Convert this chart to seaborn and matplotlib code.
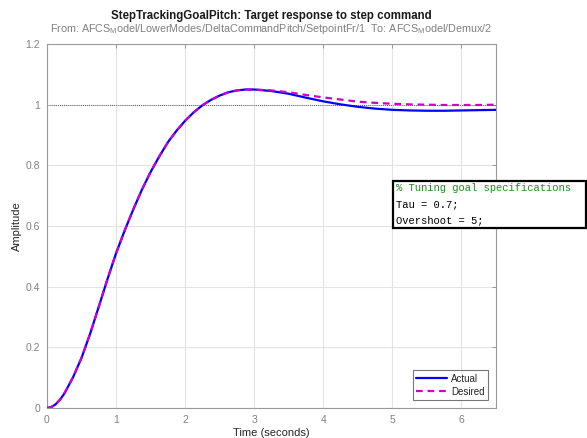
import matplotlib
matplotlib.use("Agg")
import matplotlib.pyplot as plt
import seaborn as sns
import pandas as pd
from matplotlib.patches import Rectangle

# ---- data ----
time_rise = [0, 0.0625, 0.125, 0.1875, 0.25, 0.375, 0.5, 0.625, 0.75, 0.875, 1.0, 1.125, 1.25,
             1.375, 1.5, 1.625, 1.75, 1.875, 2.0, 2.125, 2.25, 2.375, 2.5,
             2.625, 2.75, 2.875, 3.0]
amp_rise = [0, 0.003, 0.012, 0.027, 0.047, 0.10, 0.165, 0.245, 0.334, 0.424, 0.51, 0.585, 0.655,
            0.72, 0.778, 0.829, 0.876, 0.914, 0.947, 0.975, 0.998, 1.016, 1.030,
            1.041, 1.047, 1.050, 1.050]
time_tail = [3.25, 3.5, 3.75, 4.0, 4.25, 4.5, 4.75, 5.0, 5.25, 5.5, 5.75, 6.0, 6.25, 6.5]
actual_tail = [1.045, 1.036, 1.023, 1.011, 1.001, 0.993, 0.987, 0.983, 0.981, 0.980,
               0.980, 0.981, 0.982, 0.983]
desired_tail = [1.047, 1.041, 1.032, 1.024, 1.017, 1.010, 1.006, 1.003, 1.001, 1.000,
                0.999, 0.999, 0.999, 1.000]
x_ticks = [0, 1, 2, 3, 4, 5, 6]
y_ticks = [0, 0.2, 0.4, 0.6, 0.8, 1.0, 1.2]
y_tick_labels = ["0", "0.2", "0.4", "0.6", "0.8", "1", "1.2"]
spec_lines = ["% Tuning goal specifications", "Tau = 0.7;", "Overshoot = 5;"]
reference_level = 1.0

time = time_rise + time_tail
actual = amp_rise + actual_tail
desired = amp_rise + desired_tail

df = pd.DataFrame({"Time": time, "Actual": actual, "Desired": desired})

sns.set_theme(style="white")
plt.rcParams["font.family"] = ["Liberation Sans", "DejaVu Sans"]

fig = plt.figure(figsize=(5.87, 4.38), dpi=100)
ax = fig.add_axes([0.080, 0.0685, 0.765, 0.831])

gray = "#8a8a8a"
ax.grid(True, color="#e3e3e3", linewidth=0.8)
ax.set_axisbelow(True)

ax.plot([0, 6.5], [reference_level, reference_level], color="#333333",
        linestyle=(0, (1, 1.5)), linewidth=0.6, zorder=2)

sns.lineplot(data=df, x="Time", y="Actual", ax=ax, color="#0000FF",
             linewidth=1.6, label="Actual", zorder=3)
sns.lineplot(data=df, x="Time", y="Desired", ax=ax, color="#CC00CC",
             linewidth=1.6, linestyle=(0, (3, 2.2)), label="Desired", zorder=4)

ax.set_xlim(0, 6.5)
ax.set_ylim(0, 1.2)
ax.set_xticks(x_ticks)
ax.set_yticks(y_ticks)
ax.set_yticklabels(y_tick_labels)
ax.tick_params(axis="both", colors=gray, labelsize=7.5, direction="in",
               length=3, width=0.6, labelcolor="#808080", top=True, right=True,
               pad=5)
for s in ax.spines.values():
    s.set_color("#9a9a9a")
    s.set_linewidth(0.8)

ax.set_xlabel("Time (seconds)", fontsize=8, color="#262626", labelpad=2)
ax.set_ylabel("Amplitude", fontsize=8, color="#262626")
ax.yaxis.set_label_coords(-0.056, 0.5)

fig.text(0.4625, 0.963, "StepTrackingGoalPitch: Target response to step command",
         ha="center", va="center", fontsize=8.3, fontweight="bold", color="#1a1a1a")
fig.text(0.4625, 0.933,
         r"From: AFCS$_{\mathregular{M}}$odel/LowerModes/DeltaCommandPitch/SetpointFr/1  To: AFCS$_{\mathregular{M}}$odel/Demux/2",
         ha="center", va="center", fontsize=7.75, color="#808080")

leg = ax.legend(loc="lower right", fontsize=7, frameon=True, fancybox=False,
                handlelength=3.2, borderpad=0.35, labelspacing=0.3,
                handletextpad=0.4, borderaxespad=0.8)
leg.get_frame().set_edgecolor("#555555")
leg.get_frame().set_linewidth(0.8)
for t in leg.get_texts():
    t.set_color("#262626")

# specification text box
x0, x1 = 393 / 587, 586 / 587
ytop, ybot = 1 - 181 / 438, 1 - 228 / 438
fig.patches.append(Rectangle((x0, ybot), x1 - x0, ytop - ybot, transform=fig.transFigure,
                             facecolor="white", edgecolor="black", linewidth=1.6,
                             zorder=10))
line_colors = ["#228B22", "#000000", "#000000"]
line_y = [1 - 188 / 438, 1 - 204 / 438, 1 - 220 / 438]
for txt, c, yy in zip(spec_lines, line_colors, line_y):
    fig.text(x0 + 3 / 587, yy, txt, ha="left", va="center", fontsize=7.6,
             family="Liberation Mono", color=c, zorder=11)

fig.savefig("out.png", dpi=100)
